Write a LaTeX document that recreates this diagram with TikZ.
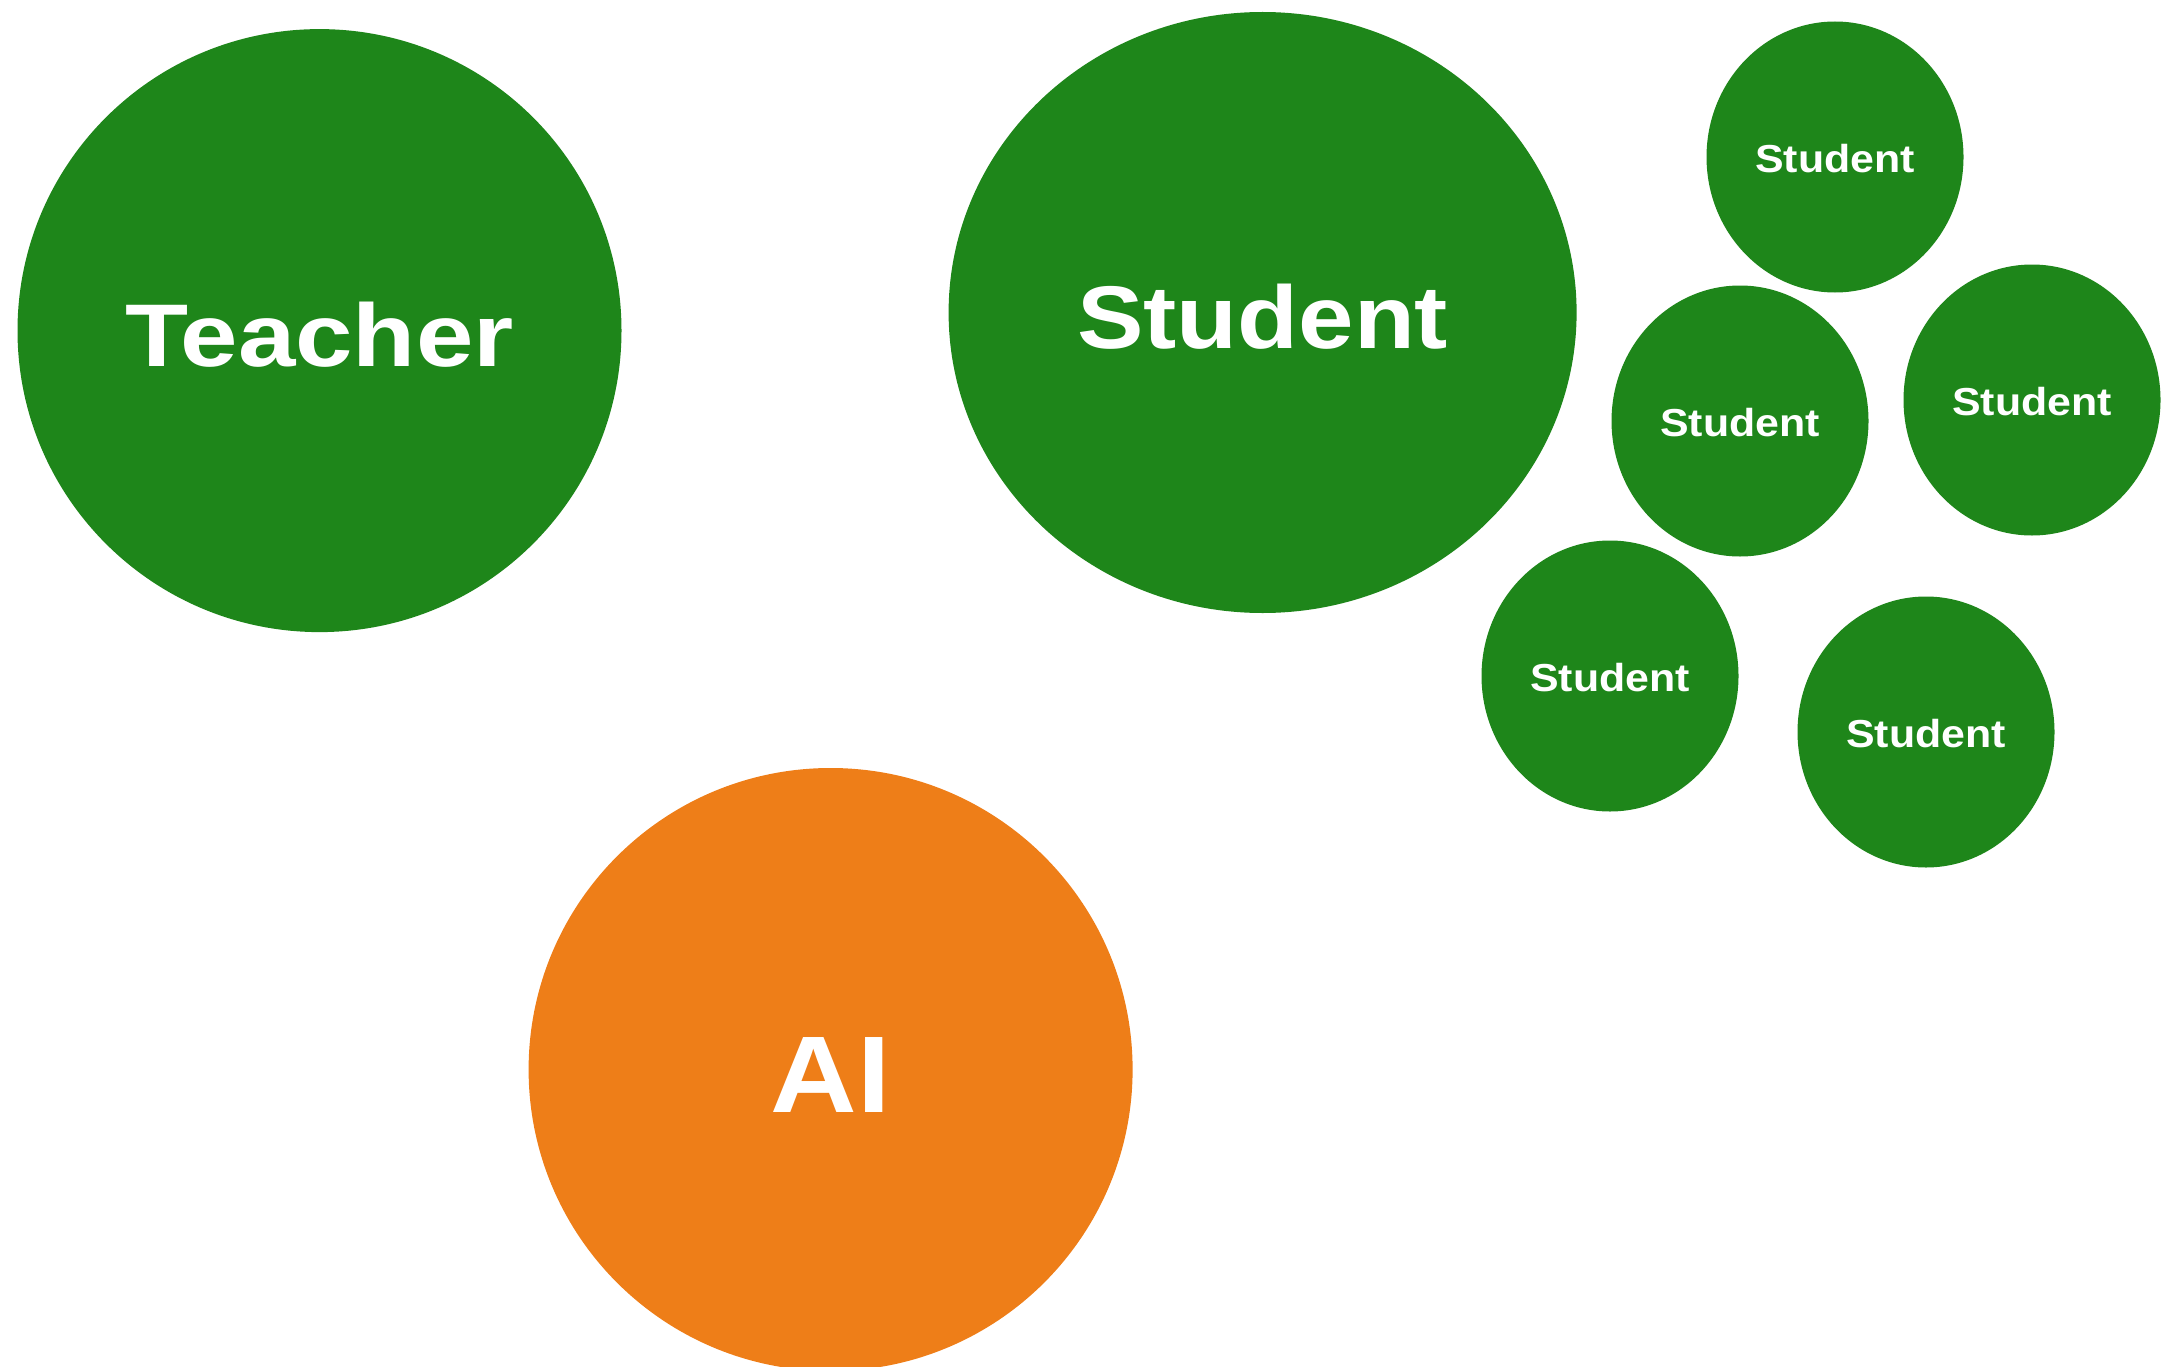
\documentclass[tikz,border=0pt]{standalone}
\usepackage{fontspec}
\setmainfont{Liberation Sans}
\usetikzlibrary{shapes.geometric}
\definecolor{bubgreen}{RGB}{30,134,26}
\definecolor{buborange}{RGB}{238,126,24}
\begin{document}
\begin{tikzpicture}[x=1pt,y=-1pt,
  bub/.style={ellipse,inner sep=0pt},
  big/.style={bub,minimum width=604pt,minimum height=603pt},
  small/.style={bub,fill=bubgreen,minimum width=257pt,minimum height=271pt},
  lbl/.style={inner sep=0pt,text=white,yshift=-4pt},
  bigtxt/.style={lbl,font=\fontsize{89}{100}\selectfont\bfseries},
  aitxt/.style={lbl,font=\fontsize{109}{120}\selectfont\bfseries,yshift=-1pt},
  smalltxt/.style={lbl,font=\fontsize{39}{44}\selectfont\bfseries,yshift=2pt,xscale=1.1}]
\useasboundingbox (0,0) rectangle (2178,1367);
\node[big,fill=bubgreen] (teacher) at (319.5,330.6) {};
\node[big,fill=bubgreen,minimum width=628pt,minimum height=601pt] (student) at (1262.6,312.5) {};
\node[big,fill=buborange] (ai) at (830.6,1069.5) {};
\node[small] (s1) at (1835,157) {};
\node[small] (s2) at (1740,421) {};
\node[small] (s3) at (2032,400) {};
\node[small] (s4) at (1610,676) {};
\node[small] (s5) at (1926,732) {};
\node[bigtxt] (teacherlbl) at (teacher.center) {\scalebox{1.16}[1]{Teacher}};
\node[bigtxt] (studentlbl) at (student.center) {\scalebox{1.12}[1]{Student}};
\node[aitxt] (ailbl) at (ai.center) {\scalebox{1.1}[1]{AI}};
\node[smalltxt] (s1lbl) at (s1.center) {Student};
\node[smalltxt] (s2lbl) at (s2.center) {Student};
\node[smalltxt] (s3lbl) at (s3.center) {Student};
\node[smalltxt] (s4lbl) at (s4.center) {Student};
\node[smalltxt] (s5lbl) at (s5.center) {Student};
\end{tikzpicture}
\end{document}
